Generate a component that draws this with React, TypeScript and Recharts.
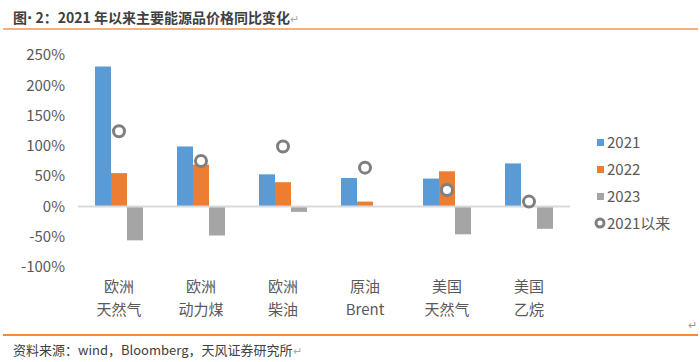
import React from 'react';
import { ComposedChart, Bar, Line, XAxis, YAxis, ReferenceLine } from 'recharts';

const catTop = ['欧洲', '欧洲', '欧洲', '原油', '美国', '美国'];
const catBottom = ['天然气', '动力煤', '柴油', 'Brent', '天然气', '乙烷'];
const y2021 = [231, 99, 53, 47, 46, 71];
const y2022 = [55, 69, 40, 8, 58, 0];
const y2023 = [-56, -48, -9, 0, -46, -37];
const since2021 = [124, 75, 99, 64, 27, 8];
const yTicks = [-100, -50, 0, 50, 100, 150, 200, 250];

const data = catTop.map((t, i) => ({
  name: t + '\n' + catBottom[i],
  top: t,
  bottom: catBottom[i],
  a: y2021[i],
  b: y2022[i],
  c: y2023[i],
  d: since2021[i],
}));

const FONT = '"Noto Sans CJK SC", "Noto Sans", sans-serif';
const TXT = '#595959';

const legendItems = [
  { label: '2021', color: '#5B9BD5', ring: false },
  { label: '2022', color: '#ED7D31', ring: false },
  { label: '2023', color: '#A5A5A5', ring: false },
  { label: '2021以来', color: '#7F7F7F', ring: true },
];

function CatTick(props: any) {
  const { x, y, index } = props;
  const d = data[index];
  return (
    <text x={x} textAnchor="middle" fill={TXT} fontSize={15} fontFamily={FONT}>
      <tspan x={x} y={y + 17}>{d.top}</tspan>
      <tspan x={x} y={y + 40}>{d.bottom}</tspan>
    </text>
  );
}

function Ring(props: any) {
  const { cx, cy } = props;
  if (cx == null || cy == null) return null;
  return <circle cx={cx} cy={cy} r={5.5} fill="#fff" stroke="#7F7F7F" strokeWidth={3} />;
}

function LegendBox() {
  return (
    <div style={{ position: 'absolute', left: 594, top: 128, fontFamily: FONT, fontSize: 15, color: TXT }}>
      {legendItems.map((it) => (
        <div key={it.label} style={{ display: 'flex', alignItems: 'center', height: 27 }}>
          <svg width={12} height={12} style={{ marginRight: 1 }}>
            {it.ring ? (
              <circle cx={6} cy={6} r={4} fill="#fff" stroke={it.color} strokeWidth={3} />
            ) : (
              <rect x={3} y={3} width={7} height={7} fill={it.color} />
            )}
          </svg>
          <span>{it.label}</span>
        </div>
      ))}
    </div>
  );
}

export default function App() {
  return (
    <div style={{ position: 'fixed', left: 0, top: 0, width: 700, height: 362, background: '#fff', fontFamily: FONT }}>
      <div style={{ position: 'absolute', left: 13, top: 7, fontSize: 14, fontWeight: 600, color: '#404040' }}>
        图<span style={{ fontFamily: '"DejaVu Sans", sans-serif' }}>·</span> 2：2021 年以来主要能源品价格同比变化
        <span style={{ color: '#aaa', fontWeight: 'normal', fontSize: 11 }}>↵</span>
      </div>
      <div style={{ position: 'absolute', left: 3, top: 28, width: 695, height: 2, background: '#F9B07A' }} />
      <ComposedChart
        width={700}
        height={362}
        data={data}
        margin={{ top: 55, right: 130, bottom: 35, left: 0 }}
        barGap={0}
        barCategoryGap="20%"
        style={{ position: 'absolute', left: 0, top: 0 }}
      >
        <XAxis dataKey="name" axisLine={false} tickLine={false} height={60} tick={<CatTick />} interval={0} />
        <YAxis
          width={78}
          domain={[-100, 250]}
          ticks={yTicks}
          interval={0}
          tickFormatter={(v: number) => `${v}%`}
          axisLine={false}
          tickLine={false}
          tickMargin={7}
          tick={{ fill: TXT, fontSize: 15, fontFamily: FONT }}
        />
        <Bar dataKey="a" name="2021" fill="#5B9BD5" barSize={16} isAnimationActive={false} />
        <Bar dataKey="b" name="2022" fill="#ED7D31" barSize={16} isAnimationActive={false} />
        <Bar dataKey="c" name="2023" fill="#A5A5A5" barSize={16} isAnimationActive={false} />
        <ReferenceLine y={0} stroke="#D9D9D9" strokeWidth={2} />
        <Line dataKey="d" name="2021以来" stroke="none" dot={<Ring />} activeDot={false} isAnimationActive={false} />
      </ComposedChart>
      <LegendBox />
      <div style={{ position: 'absolute', left: 688, top: 316, fontSize: 11, color: '#999' }}>↵</div>
      <div style={{ position: 'absolute', left: 3, top: 334, width: 695, height: 2, background: '#F08C42' }} />
      <div style={{ position: 'absolute', left: 13, top: 340, fontSize: 13, color: '#404040' }}>
        资料来源：wind，Bloomberg，天风证券研究所<span style={{ color: '#aaa', fontSize: 11 }}>↵</span>
      </div>
    </div>
  );
}
